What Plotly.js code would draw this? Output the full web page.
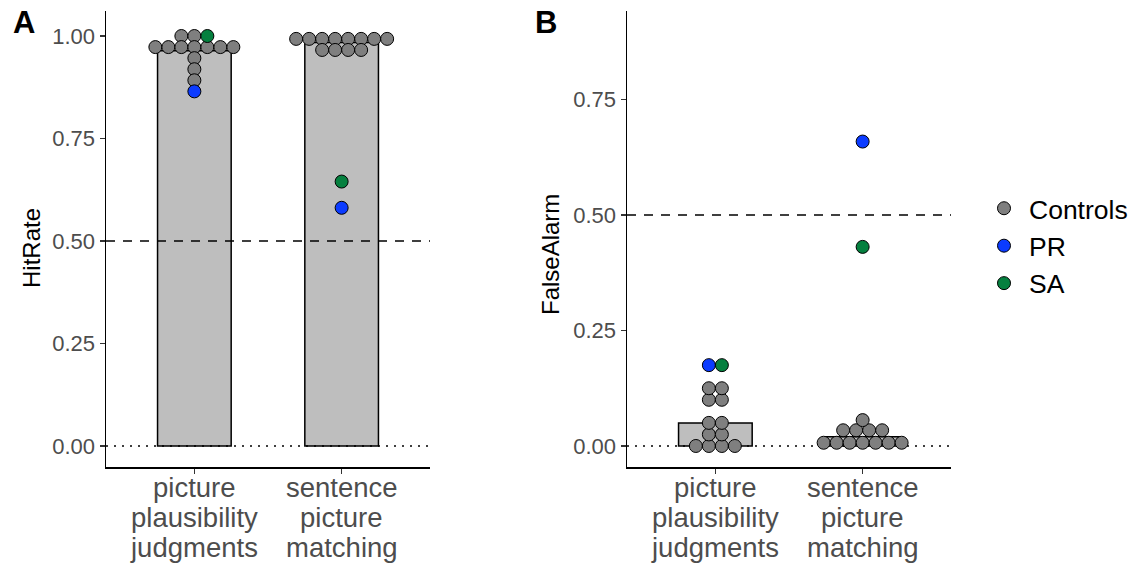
<!DOCTYPE html>
<html>
<head>
<meta charset="utf-8">
<script src="https://cdn.plot.ly/plotly-3.0.1.min.js"></script>
<style>html,body{margin:0;padding:0;background:#fff;}#chart{width:1143px;height:571px;}</style>
</head>
<body>
<div id="chart"></div>
<script>
// ---------- data ----------
const categories = ['picture plausibility judgments', 'sentence picture matching'];
const categoryLines = [['picture', 'plausibility', 'judgments'], ['sentence', 'picture', 'matching']];
const groups = ['Controls', 'PR', 'SA'];

// Hit rate (panel A)
const hitControlsPPJ = [1, 1, 0.973, 0.973, 0.973, 0.973, 0.973, 0.973, 0.973, 0.946, 0.919, 0.892];
const hitControlsSPM = [0.993, 0.993, 0.993, 0.993, 0.993, 0.993, 0.993, 0.993, 0.966, 0.966, 0.966, 0.966];
const hitPR = [0.865, 0.581];
const hitSA = [1.0, 0.645];

// False alarm (panel B)
const faControlsPPJ = [0, 0, 0, 0, 0.025, 0.025, 0.05, 0.05, 0.1, 0.1, 0.125, 0.125];
const faControlsSPM = [0.007, 0.007, 0.007, 0.007, 0.007, 0.007, 0.007, 0.034, 0.034, 0.034, 0.034, 0.056];
const faPR = [0.175, 0.659];
const faSA = [0.175, 0.431];

const chanceHit = 0.5;
const chanceFA = 0.5;
const floorLine = 0;

// ---------- styles ----------
const W = 1143, H = 571;
const groupColors = {Controls: '#7f7f7f', PR: '#0b3bff', SA: '#05803f'};
const FONT = 'Liberation Sans, Arial, sans-serif';
const xRange = [0.4, 2.6];
const domA = [106 / W, 430 / W];
const domB = [627 / W, 951 / W];
const domY = [(H - 467) / H, (H - 11) / H];
const dotPx = 13;

function mean(a) { return a.reduce((s, v) => s + v, 0) / a.length; }

// build dot traces with centered stacking (dotplot style)
function dotTraces(controls, pr, sa, xaxis, yaxis, domain, showLegend) {
  const pxPerUnit = (domain[1] - domain[0]) * W / (xRange[1] - xRange[0]);
  const step = dotPx / pxPerUnit;
  const pts = {Controls: {x: [], y: []}, PR: {x: [], y: []}, SA: {x: [], y: []}};
  categories.forEach((c, ci) => {
    const items = [];
    controls[ci].forEach(v => items.push({g: 'Controls', v}));
    items.push({g: 'PR', v: pr[ci]});
    items.push({g: 'SA', v: sa[ci]});
    const bins = {};
    items.forEach(it => { const k = it.v.toFixed(4); (bins[k] = bins[k] || []).push(it); });
    Object.values(bins).forEach(bin => {
      const n = bin.length;
      bin.forEach((it, i) => {
        pts[it.g].x.push(ci + 1 + (i - (n - 1) / 2) * step);
        pts[it.g].y.push(it.v);
      });
    });
  });
  return groups.map(g => ({
    type: 'scatter', mode: 'markers', name: g, showlegend: showLegend,
    x: pts[g].x, y: pts[g].y, xaxis, yaxis, cliponaxis: false,
    marker: {size: dotPx, color: groupColors[g], line: {color: '#000', width: 1}},
    hoverinfo: 'y+name'
  }));
}

function barTrace(controls, xaxis, yaxis) {
  return {
    type: 'bar', x: [1, 2], y: controls.map(mean), width: 0.5, xaxis, yaxis, showlegend: false,
    marker: {color: '#bebebe', line: {color: '#000', width: 1.5}}, hoverinfo: 'y'
  };
}

function hline(val, dash, xaxis, yaxis) {
  return {
    type: 'scatter', mode: 'lines', x: xRange, y: [val, val], xaxis, yaxis, showlegend: false,
    line: {color: '#000', width: 1.4, dash}, hoverinfo: 'skip', cliponaxis: false
  };
}

const data = [
  barTrace([hitControlsPPJ, hitControlsSPM], 'x', 'y'),
  hline(floorLine, '2px,6px', 'x', 'y'),
  hline(chanceHit, '9px,8px', 'x', 'y'),
  ...dotTraces([hitControlsPPJ, hitControlsSPM], hitPR, hitSA, 'x', 'y', domA, true),
  barTrace([faControlsPPJ, faControlsSPM], 'x2', 'y2'),
  hline(floorLine, '2px,6px', 'x2', 'y2'),
  hline(chanceFA, '9px,8px', 'x2', 'y2'),
  ...dotTraces([faControlsPPJ, faControlsSPM], faPR, faSA, 'x2', 'y2', domB, false)
];

const xCommon = {
  range: xRange, tickvals: [1, 2], ticktext: ['', ''], showgrid: false, zeroline: false,
  showline: true, linecolor: '#000', linewidth: 1.5, ticks: 'outside', ticklen: 5,
  tickwidth: 1.3, tickcolor: '#333', fixedrange: true
};
const yCommon = {
  showgrid: false, zeroline: false, showline: true, linecolor: '#000', linewidth: 1.5,
  ticks: 'outside', ticklen: 5, tickwidth: 1.3, tickcolor: '#333',
  tickfont: {family: FONT, size: 22, color: '#4d4d4d'}, tickformat: '.2f', fixedrange: true
};

function py(p) { return (H - p) / H; }
const annotations = [];
[['x', 0], ['x2', 1]].forEach(([xr]) => {
  categoryLines.forEach((lines, ci) => {
    lines.forEach((t, j) => {
      annotations.push({
        xref: xr, yref: 'paper', x: ci + 1, y: py(487.5 + 29.8 * j), yanchor: 'middle', xanchor: 'center',
        text: t, showarrow: false, font: {family: FONT, size: 27.5, color: '#4d4d4d'}
      });
    });
  });
});
annotations.push(
  {xref: 'paper', yref: 'paper', x: 32 / W, y: py(248), text: 'HitRate', textangle: -90, showarrow: false,
   xanchor: 'center', yanchor: 'middle', font: {family: FONT, size: 24, color: '#000'}},
  {xref: 'paper', yref: 'paper', x: 550 / W, y: py(255), text: 'FalseAlarm', textangle: -90, showarrow: false,
   xanchor: 'center', yanchor: 'middle', font: {family: FONT, size: 24, color: '#000'}},
  {xref: 'paper', yref: 'paper', x: 23.5 / W, y: py(22.5), text: '<b>A</b>', showarrow: false,
   xanchor: 'center', yanchor: 'middle', font: {family: FONT, size: 31, color: '#000'}},
  {xref: 'paper', yref: 'paper', x: 545.5 / W, y: py(22.5), text: '<b>B</b>', showarrow: false,
   xanchor: 'center', yanchor: 'middle', font: {family: FONT, size: 31, color: '#000'}}
);

const layout = {
  width: W, height: H, margin: {l: 0, r: 0, t: 0, b: 0},
  paper_bgcolor: '#fff', plot_bgcolor: '#fff', barmode: 'overlay',
  font: {family: FONT},
  xaxis: Object.assign({}, xCommon, {domain: domA, anchor: 'y'}),
  yaxis: Object.assign({}, yCommon, {domain: domY, anchor: 'x', range: [-0.0512, 1.061], tickvals: [0, 0.25, 0.5, 0.75, 1]}),
  xaxis2: Object.assign({}, xCommon, {domain: domB, anchor: 'y2'}),
  yaxis2: Object.assign({}, yCommon, {domain: domY, anchor: 'x2', range: [-0.0455, 0.9416], tickvals: [0, 0.25, 0.5, 0.75]}),
  legend: {x: 979 / W, y: py(246), xanchor: 'left', yanchor: 'middle', font: {family: FONT, size: 26.5, color: '#000'},
           bgcolor: 'rgba(0,0,0,0)', borderwidth: 0, tracegroupgap: 0, itemwidth: 40},
  annotations,
  showlegend: true
};

Plotly.newPlot('chart', data, layout, {displayModeBar: false, staticPlot: true});
</script>
</body>
</html>
